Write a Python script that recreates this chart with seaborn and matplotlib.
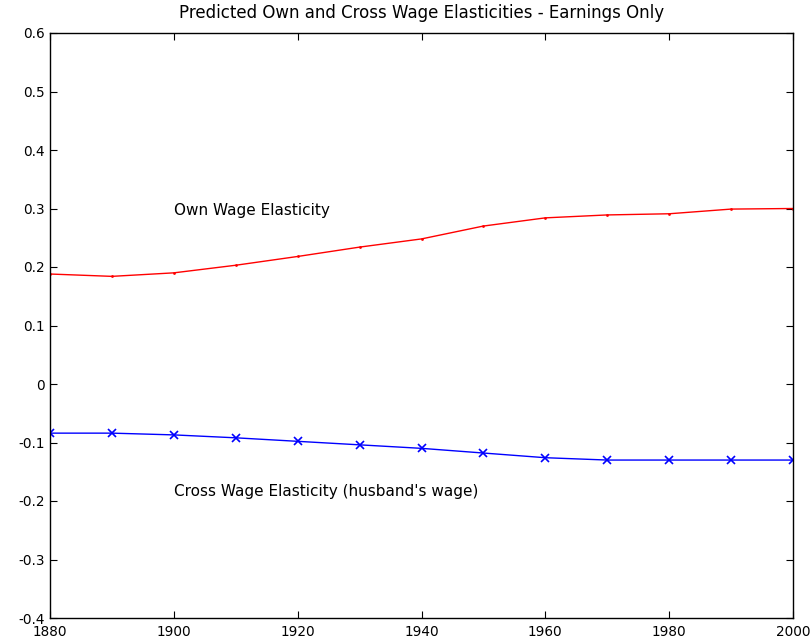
import matplotlib
matplotlib.use("Agg")
import matplotlib.pyplot as plt
import seaborn as sns
import pandas as pd

years = [1880, 1890, 1900, 1910, 1920, 1930, 1940, 1950, 1960, 1970, 1980, 1990, 2000]
own_wage = [0.188, 0.184, 0.190, 0.203, 0.218, 0.234, 0.248, 0.270, 0.284, 0.289, 0.291, 0.299, 0.300]
cross_wage = [-0.084, -0.084, -0.087, -0.092, -0.098, -0.104, -0.110, -0.118, -0.126, -0.130, -0.130, -0.130, -0.130]
x_ticks = [1880, 1900, 1920, 1940, 1960, 1980, 2000]
y_ticks = [-0.4, -0.3, -0.2, -0.1, 0, 0.1, 0.2, 0.3, 0.4, 0.5, 0.6]
y_labels = ["-0.4", "-0.3", "-0.2", "-0.1", "0", "0.1", "0.2", "0.3", "0.4", "0.5", "0.6"]

df = pd.DataFrame({"year": years, "own": own_wage, "cross": cross_wage})

sns.set_theme(style="ticks")
plt.rcParams["font.family"] = ["DejaVu Sans"]
plt.rcParams["text.color"] = "black"

fig = plt.figure(figsize=(8.12, 6.43), dpi=100)
ax = fig.add_axes([50 / 812, 1 - 618 / 643, 743 / 812, 585 / 643])

sns.lineplot(data=df, x="year", y="own", ax=ax, color="red", linewidth=1.0,
             marker=".", markersize=4, markeredgewidth=0)
sns.lineplot(data=df, x="year", y="cross", ax=ax, color="blue", linewidth=1.0,
             marker="x", markersize=6, markeredgewidth=1.2, markeredgecolor="blue")

ax.set_xlim(1880, 2000)
ax.set_ylim(-0.4, 0.6)
ax.set_xticks(x_ticks)
ax.set_yticks(y_ticks)
ax.set_yticklabels(y_labels)
ax.set_xlabel("")
ax.set_ylabel("")
ax.tick_params(direction="in", length=5, width=0.8, top=True, right=True,
               labelsize=9.8, colors="black", pad=4)
ax.tick_params(axis="x", pad=5)
for s in ax.spines.values():
    s.set_linewidth(1.0)
    s.set_color("black")

ax.text(1900, 0.297, "Own Wage Elasticity", fontsize=11, color="black", va="center", ha="left")
ax.text(1900, -0.183, "Cross Wage Elasticity (husband's wage)", fontsize=11, color="black",
        va="center", ha="left")
ax.set_title("Predicted Own and Cross Wage Elasticities - Earnings Only", fontsize=12, color="black", pad=11)

fig.savefig("out.png", dpi=100)
